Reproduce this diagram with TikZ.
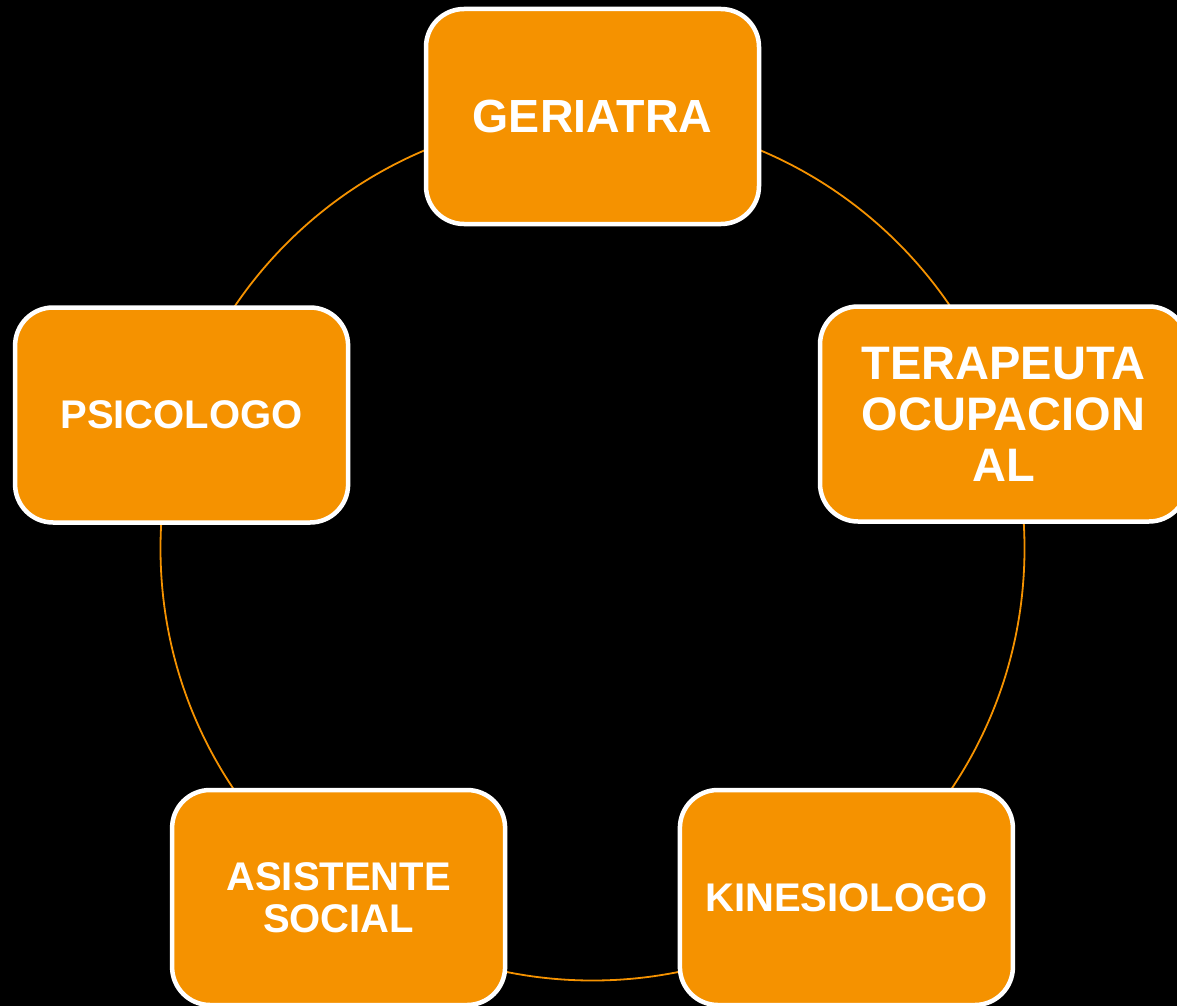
\documentclass[tikz,border=0pt]{standalone}
\usepackage{fontspec}
\setmainfont{Liberation Sans}
\definecolor{boxorange}{RGB}{245,146,0}
\tikzset{
  rolebox/.style={draw=white, line width=4.5pt, fill=boxorange, rounded corners=38pt,
    minimum width=333pt, minimum height=215pt, inner sep=0pt, text=white,
    align=center},
  bigtext/.style={font=\bfseries\fontsize{47}{51}\selectfont},
  smalltext/.style={font=\bfseries\fontsize{40}{42}\selectfont},
  ring/.style={draw=boxorange, line width=1.8pt, circle, inner sep=0pt, minimum size=864pt}
}
\begin{document}
\begin{tikzpicture}[x=1pt,y=-1pt]
\clip (0,0) rectangle (1177,1006);
\fill[black] (0,0) rectangle (1177,1006);
\node[ring] (cycle) at (592.5,548.5) {};
\node[rolebox, font=\bfseries\fontsize{46.5}{51}\selectfont] (ger) at (592.5,116.5) {GERIATRA};
\node[rolebox, bigtext, minimum width=367pt] (ter) at (1003.5,414) {TERAPEUTA\\OCUPACION\\AL};
\node[rolebox, smalltext] (kin) at (846.4,897.5) {KINESIOLOGO};
\node[rolebox, smalltext] (asi) at (338.6,897.5) {ASISTENTE\\SOCIAL};
\node[rolebox, smalltext] (psi) at (181.6,415) {PSICOLOGO};
\end{tikzpicture}
\end{document}
